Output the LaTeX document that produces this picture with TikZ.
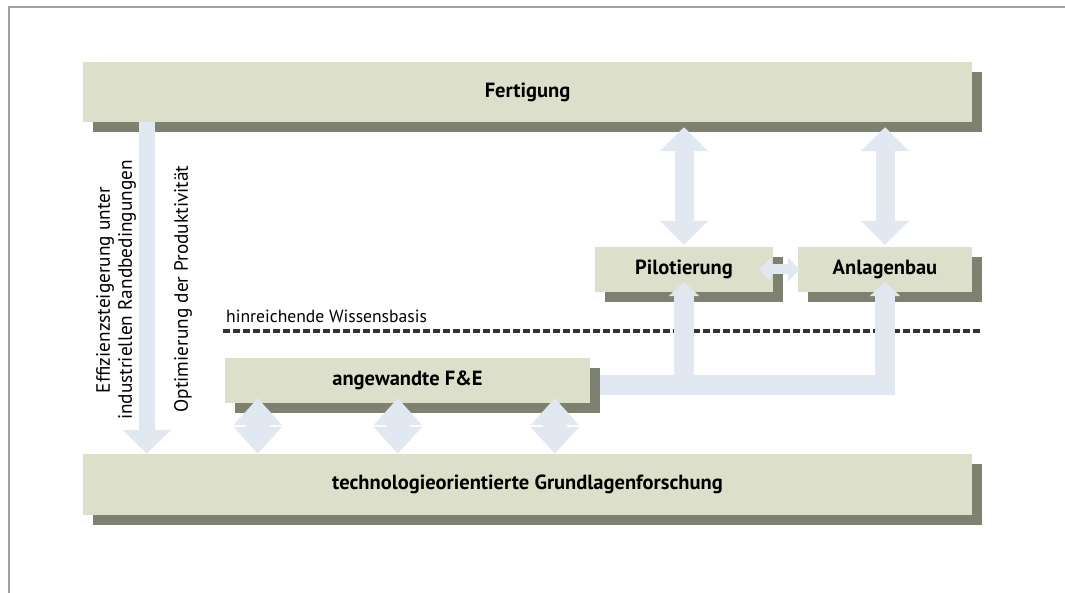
\documentclass[tikz,border=0pt]{standalone}
\usepackage{fontspec}
\setmainfont{PT Sans}
\usetikzlibrary{arrows.meta,shadows}

\definecolor{slabface}{HTML}{DCE0CB}
\definecolor{slabside}{HTML}{7E8070}
\definecolor{arrowfill}{HTML}{E2E8F1}
\definecolor{framegray}{HTML}{A0A0A0}

\begin{document}
\begin{tikzpicture}[x = 1pt, y = -1pt, auto = center,
	every node/.style = {inner sep = 0pt, font = \fontsize{17.6}{21}\selectfont},
	slab/.style = {fill = slabface, font = \bfseries\fontsize{20.5}{24}\selectfont,
		general shadow = {shadow xshift = 10pt, shadow yshift = -10pt, fill = slabside}},
	sidetext/.style = {rotate = 90, align = center, font = \fontsize{19.3}{22}\selectfont},
	bigarrow/.style = {draw = arrowfill, line width = 19pt},
	bigtip/.tip = {Triangle[length = 24pt, width = 47pt]},
	stubtip/.tip = {Triangle[length = 27pt, width = 47pt]},
	bartip/.tip = {Triangle[length = 14pt, width = 30pt]},
	midtip/.tip = {Triangle[length = 12pt, width = 24pt]}]

	\useasboundingbox (0, 0) rectangle (1065, 593);
	\draw[framegray, line width = 1.2pt] (1065, 7) -- (9, 7) -- (9, 593);

		\node[slab, minimum width = 889pt, minimum height = 60pt] (FER) at (527.5,  92) {Fertigung};
		\node[slab, minimum width = 889pt, minimum height = 61pt] (TGF) at (527.5, 484.5) {technologieorientierte Grundlagenforschung};
		\node[slab, minimum width = 365pt, minimum height = 45pt] (FUE) at (407.5, 380.5) {angewandte F\&E};
		\node[slab, minimum width = 178pt, minimum height = 45pt] (PIL) at (684,   269.5) {Pilotierung};
		\node[slab, minimum width = 174pt, minimum height = 45pt] (ANL) at (885,   269.5) {Anlagenbau};

		% Wissensbasis
		\coordinate (WBl) at (223, 331);
		\coordinate (WBr) at (983, 331);
		\draw[black!80, line width = 4pt, dash pattern = on 7pt off 3pt] (WBl) -- (WBr);
		\node[anchor = south west] (WBt) at ([xshift = 3pt, yshift = 8pt]WBl) {hinreichende Wissensbasis};

		% seitliche Texte
		\node[sidetext] (EFF) at (116, 290) {Effizienzsteigerung unter\\industriellen Randbedingungen};
		\node[sidetext] (OPT) at (183, 289) {Optimierung der Produktivität};

		\draw[bigarrow, line width = 16pt, -bigtip] ([xshift = 64pt]FER.south west) -- ([xshift = 64pt]TGF.north west);

	    \foreach \to in {PIL, ANL}
	    	\draw[bigarrow, bigtip-bigtip, shorten < = 5pt, shorten > = 2pt] (\to.north |- FER.south) -- (\to.north);

	    \foreach \dx in {33, 173, 330}
	    	\draw[bigarrow, line width = 24pt, stubtip-stubtip, shorten < = -5pt] ([xshift = \dx pt]FUE.south west) -- ([xshift = \dx pt]FUE.south west |- TGF.north);

		\draw[bigarrow, line width = 20pt, -bartip, shorten > = -10pt] ([xshift = 10pt, yshift = -4pt]FUE.east) -- ([yshift = -4pt]FUE.east -| ANL.south) -- (ANL.south);
		\draw[bigarrow, line width = 20pt, -bartip, shorten > = -10pt] ([yshift = -4pt]FUE.east -| PIL.south) -- (PIL.south);

		\draw[bigarrow, line width = 10pt, midtip-midtip] ([xshift = -14pt]PIL.east) -- ([xshift = 2pt]ANL.west);

\end{tikzpicture}
\end{document}
